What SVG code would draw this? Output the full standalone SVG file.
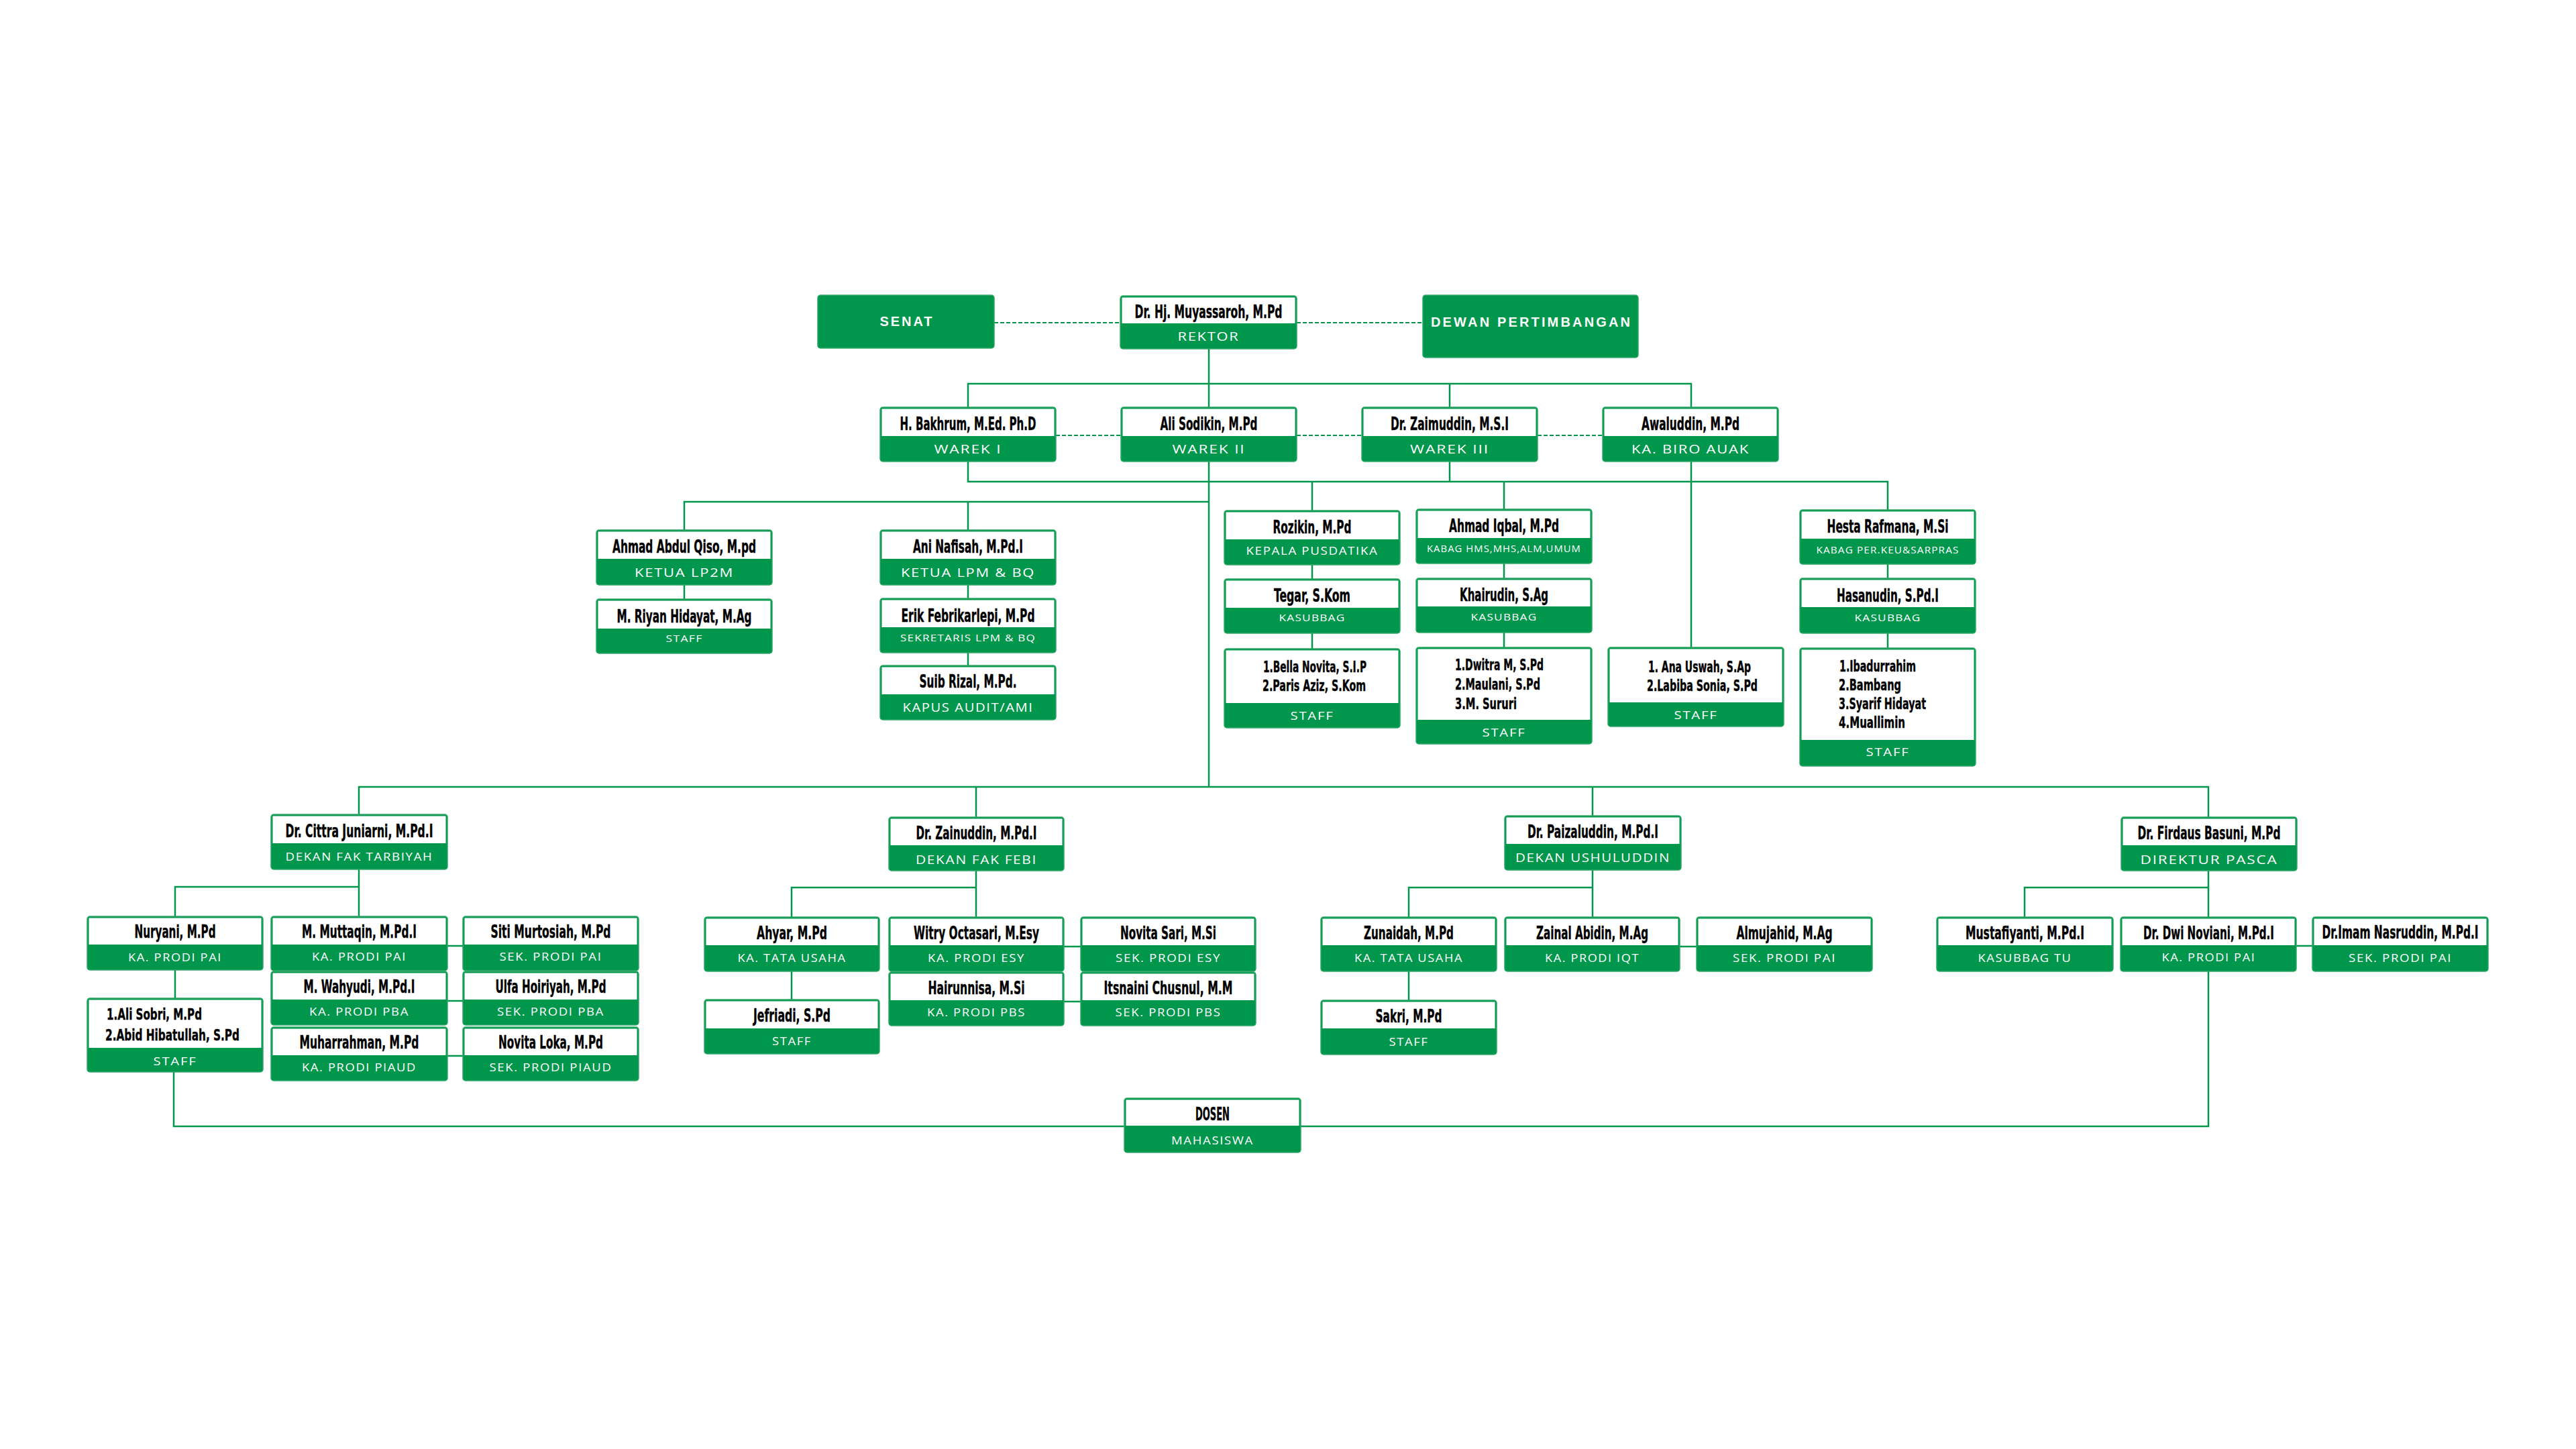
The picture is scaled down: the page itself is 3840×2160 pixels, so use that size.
<svg xmlns="http://www.w3.org/2000/svg" width="3840" height="2160" viewBox="0 0 3840 2160">
<style>
.bx{fill:#00964c;stroke:#2ea865;stroke-width:1.5}
.wh{fill:#ffffff}
.nm{font-family:"DejaVu Sans Condensed","Liberation Sans Narrow","Liberation Sans",sans-serif;font-weight:700;font-size:26px;fill:#000;stroke:#000;stroke-width:0.4;text-anchor:middle}
.ls{font-family:"DejaVu Sans Condensed","Liberation Sans Narrow","Liberation Sans",sans-serif;font-weight:700;font-size:23px;fill:#000;stroke:#000;stroke-width:0.4;text-anchor:start}
.tt{font-family:"Open Sans","Lato","Liberation Sans",sans-serif;font-size:17px;letter-spacing:1.5px;fill:#fff;text-anchor:middle}
.tl{font-family:"Open Sans","Lato","Liberation Sans",sans-serif;font-size:19px;letter-spacing:1.5px;fill:#fff;text-anchor:middle}
.ts{font-family:"Open Sans","Lato","Liberation Sans",sans-serif;font-size:14px;letter-spacing:1px;fill:#fff;text-anchor:middle}
.hb{font-family:"Liberation Sans","DejaVu Sans",sans-serif;font-weight:700;font-size:20px;fill:#fff;text-anchor:middle}
.ln{fill:none;stroke:#00964c;stroke-width:2.5}
.dl{fill:none;stroke:#00964c;stroke-width:2;stroke-dasharray:6 3}
</style>
<rect width="3840" height="2160" fill="#ffffff"/>
<g id="connectors">
<path class="ln" d="M1802 520V607 M1443 607V572H2521V607 M2161 572V607 M1802 688V1173 M1443 688V718H2814V760 M2161 688V718 M1956 718V761 M2242 718V759 M2521 688V965"/>
<path class="ln" d="M1020 790V748H1802 M1443 748V790 M1020 872V893 M1443 872V892 M1443 973V992 M1956 842V863 M1956 944V967 M2242 840V862 M2242 943V965 M2814 841V862 M2814 944V966"/>
<path class="ln" d="M535 1214V1173H3292V1218 M1455 1173V1218 M2374 1173V1216 M535 1296V1366 M261 1366V1322H535 M1455 1298V1367 M1180 1367V1323H1455 M2374 1297V1367 M2100 1367V1323H2374 M3292 1298V1367 M3018 1367V1323H3292"/>
<path class="ln" d="M261 1446V1488 M1180 1448V1490 M2100 1448V1491 M667 1410H690 M667 1492H690 M667 1574H690 M1586 1411H1611 M1586 1493H1611 M2504 1411H2529 M3423 1410H3447 M259 1598V1679H3292V1448"/>
<path class="dl" d="M1482 481H1670 M1933 481H2121 M1574 649H1671 M1933 649H2030 M2292 649H2389"/>
</g>
<g id="senat"><rect class="bx" x="1219" y="440" width="263" height="79" rx="4"/><text class="hb" x="1350.5" y="486" textLength="78" lengthAdjust="spacing">SENAT</text></g>
<g id="rektor"><rect class="bx" x="1670" y="441" width="263" height="79" rx="4"/><rect class="wh" x="1672.5" y="443.5" width="258" height="38.5"/><text class="nm" x="1801.5" y="474" textLength="220" lengthAdjust="spacingAndGlyphs">Dr. Hj. Muyassaroh, M.Pd</text><text class="tl" x="1801.5" y="508" textLength="92" lengthAdjust="spacingAndGlyphs">REKTOR</text></g>
<g id="dewan"><rect class="bx" x="2121" y="440" width="321" height="93" rx="4"/><text class="hb" x="2281.5" y="487" textLength="297" lengthAdjust="spacing">DEWAN PERTIMBANGAN</text></g>
<g id="warek1"><rect class="bx" x="1312" y="607" width="262" height="81" rx="4"/><rect class="wh" x="1314.5" y="609.5" width="257" height="40.5"/><text class="nm" x="1443" y="641" textLength="203" lengthAdjust="spacingAndGlyphs">H. Bakhrum, M.Ed. Ph.D</text><text class="tl" x="1443" y="676" textLength="101" lengthAdjust="spacingAndGlyphs">WAREK I</text></g>
<g id="warek2"><rect class="bx" x="1671" y="607" width="262" height="81" rx="4"/><rect class="wh" x="1673.5" y="609.5" width="257" height="40.5"/><text class="nm" x="1802" y="641" textLength="145" lengthAdjust="spacingAndGlyphs">Ali Sodikin, M.Pd</text><text class="tl" x="1802" y="676" textLength="109" lengthAdjust="spacingAndGlyphs">WAREK II</text></g>
<g id="warek3"><rect class="bx" x="2030" y="607" width="262" height="81" rx="4"/><rect class="wh" x="2032.5" y="609.5" width="257" height="40.5"/><text class="nm" x="2161" y="641" textLength="176" lengthAdjust="spacingAndGlyphs">Dr. Zaimuddin, M.S.I</text><text class="tl" x="2161" y="676" textLength="118" lengthAdjust="spacingAndGlyphs">WAREK III</text></g>
<g id="awaluddin"><rect class="bx" x="2389" y="607" width="262" height="81" rx="4"/><rect class="wh" x="2391.5" y="609.5" width="257" height="40.5"/><text class="nm" x="2520" y="641" textLength="146" lengthAdjust="spacingAndGlyphs">Awaluddin, M.Pd</text><text class="tl" x="2520" y="676" textLength="176" lengthAdjust="spacingAndGlyphs">KA. BIRO AUAK</text></g>
<g id="lp2m"><rect class="bx" x="889" y="790" width="262" height="82" rx="4"/><rect class="wh" x="891.5" y="792.5" width="257" height="40.5"/><text class="nm" x="1020" y="824" textLength="214" lengthAdjust="spacingAndGlyphs">Ahmad Abdul Qiso, M.pd</text><text class="tl" x="1020" y="860" textLength="148" lengthAdjust="spacingAndGlyphs">KETUA LP2M</text></g>
<g id="riyan"><rect class="bx" x="889" y="893" width="262" height="81" rx="4"/><rect class="wh" x="891.5" y="895.5" width="257" height="41.5"/><text class="nm" x="1020" y="928" textLength="201" lengthAdjust="spacingAndGlyphs">M. Riyan Hidayat, M.Ag</text><text class="ts" x="1020" y="957" textLength="55" lengthAdjust="spacingAndGlyphs">STAFF</text></g>
<g id="lpm"><rect class="bx" x="1312" y="790" width="262" height="82" rx="4"/><rect class="wh" x="1314.5" y="792.5" width="257" height="40.5"/><text class="nm" x="1443" y="824" textLength="164" lengthAdjust="spacingAndGlyphs">Ani Nafisah, M.Pd.I</text><text class="tl" x="1443" y="860" textLength="200" lengthAdjust="spacingAndGlyphs">KETUA LPM &amp; BQ</text></g>
<g id="erik"><rect class="bx" x="1312" y="892" width="262" height="81" rx="4"/><rect class="wh" x="1314.5" y="894.5" width="257" height="40.5"/><text class="nm" x="1443" y="927" textLength="199" lengthAdjust="spacingAndGlyphs">Erik Febrikarlepi, M.Pd</text><text class="ts" x="1443" y="956" textLength="202" lengthAdjust="spacingAndGlyphs">SEKRETARIS LPM &amp; BQ</text></g>
<g id="suib"><rect class="bx" x="1312" y="992" width="262" height="81" rx="4"/><rect class="wh" x="1314.5" y="994.5" width="257" height="40.5"/><text class="nm" x="1443" y="1025" textLength="145" lengthAdjust="spacingAndGlyphs">Suib Rizal, M.Pd.</text><text class="tl" x="1443" y="1061" textLength="195" lengthAdjust="spacingAndGlyphs">KAPUS AUDIT/AMI</text></g>
<g id="rozikin"><rect class="bx" x="1825" y="761" width="262" height="81" rx="4"/><rect class="wh" x="1827.5" y="763.5" width="257" height="40.5"/><text class="nm" x="1956" y="795" textLength="117" lengthAdjust="spacingAndGlyphs">Rozikin, M.Pd</text><text class="tt" x="1956" y="827" textLength="197" lengthAdjust="spacingAndGlyphs">KEPALA PUSDATIKA</text></g>
<g id="tegar"><rect class="bx" x="1825" y="863" width="262" height="81" rx="4"/><rect class="wh" x="1827.5" y="865.5" width="257" height="40.5"/><text class="nm" x="1956" y="897" textLength="114" lengthAdjust="spacingAndGlyphs">Tegar, S.Kom</text><text class="ts" x="1956" y="926" textLength="99" lengthAdjust="spacingAndGlyphs">KASUBBAG</text></g>
<g id="staff-pusdatika"><rect class="bx" x="1825" y="967" width="262" height="118" rx="4"/><rect class="wh" x="1827.5" y="969.5" width="257" height="78.5"/><text class="ls" x="1883" y="1002" textLength="154" lengthAdjust="spacingAndGlyphs">1.Bella Novita, S.I.P</text><text class="ls" x="1882" y="1030" textLength="154" lengthAdjust="spacingAndGlyphs">2.Paris Aziz, S.Kom</text><text class="tt" x="1956" y="1073" textLength="65" lengthAdjust="spacingAndGlyphs">STAFF</text></g>
<g id="iqbal"><rect class="bx" x="2111" y="759" width="262" height="81" rx="4"/><rect class="wh" x="2113.5" y="761.5" width="257" height="40.5"/><text class="nm" x="2242" y="793" textLength="164" lengthAdjust="spacingAndGlyphs">Ahmad Iqbal, M.Pd</text><text class="ts" x="2242" y="823" textLength="230" lengthAdjust="spacingAndGlyphs">KABAG HMS,MHS,ALM,UMUM</text></g>
<g id="khairudin"><rect class="bx" x="2111" y="862" width="262" height="81" rx="4"/><rect class="wh" x="2113.5" y="864.5" width="257" height="39.5"/><text class="nm" x="2242" y="896" textLength="132" lengthAdjust="spacingAndGlyphs">Khairudin, S.Ag</text><text class="ts" x="2242" y="925" textLength="99" lengthAdjust="spacingAndGlyphs">KASUBBAG</text></g>
<g id="staff-hms"><rect class="bx" x="2111" y="965" width="262" height="144" rx="4"/><rect class="wh" x="2113.5" y="967.5" width="257" height="105.5"/><text class="ls" x="2169" y="999" textLength="132" lengthAdjust="spacingAndGlyphs">1.Dwitra M, S.Pd</text><text class="ls" x="2169" y="1028" textLength="127" lengthAdjust="spacingAndGlyphs">2.Maulani, S.Pd</text><text class="ls" x="2169" y="1057" textLength="92" lengthAdjust="spacingAndGlyphs">3.M. Sururi</text><text class="tt" x="2242" y="1098" textLength="65" lengthAdjust="spacingAndGlyphs">STAFF</text></g>
<g id="staff-auak"><rect class="bx" x="2397" y="965" width="262" height="118" rx="4"/><rect class="wh" x="2399.5" y="967.5" width="257" height="79.5"/><text class="ls" x="2457" y="1002" textLength="153" lengthAdjust="spacingAndGlyphs">1. Ana Uswah, S.Ap</text><text class="ls" x="2455" y="1030" textLength="165" lengthAdjust="spacingAndGlyphs">2.Labiba Sonia, S.Pd</text><text class="tt" x="2528" y="1072" textLength="65" lengthAdjust="spacingAndGlyphs">STAFF</text></g>
<g id="hesta"><rect class="bx" x="2683" y="760" width="262" height="81" rx="4"/><rect class="wh" x="2685.5" y="762.5" width="257" height="40.5"/><text class="nm" x="2814" y="794" textLength="181" lengthAdjust="spacingAndGlyphs">Hesta Rafmana, M.Si</text><text class="ts" x="2814" y="825" textLength="213" lengthAdjust="spacingAndGlyphs">KABAG PER.KEU&amp;SARPRAS</text></g>
<g id="hasanudin"><rect class="bx" x="2683" y="862" width="262" height="82" rx="4"/><rect class="wh" x="2685.5" y="864.5" width="257" height="40.5"/><text class="nm" x="2814" y="897" textLength="152" lengthAdjust="spacingAndGlyphs">Hasanudin, S.Pd.I</text><text class="ts" x="2814" y="926" textLength="99" lengthAdjust="spacingAndGlyphs">KASUBBAG</text></g>
<g id="staff-keu"><rect class="bx" x="2683" y="966" width="262" height="176" rx="4"/><rect class="wh" x="2685.5" y="968.5" width="257" height="134.5"/><text class="ls" x="2742" y="1001" textLength="114" lengthAdjust="spacingAndGlyphs">1.Ibadurrahim</text><text class="ls" x="2741" y="1029" textLength="93" lengthAdjust="spacingAndGlyphs">2.Bambang</text><text class="ls" x="2741" y="1057" textLength="130" lengthAdjust="spacingAndGlyphs">3.Syarif Hidayat</text><text class="ls" x="2741" y="1085" textLength="99" lengthAdjust="spacingAndGlyphs">4.Muallimin</text><text class="tt" x="2814" y="1127" textLength="65" lengthAdjust="spacingAndGlyphs">STAFF</text></g>
<g id="dekan-tarbiyah"><rect class="bx" x="404" y="1214" width="263" height="82" rx="4"/><rect class="wh" x="406.5" y="1216.5" width="258" height="40.5"/><text class="nm" x="535.5" y="1248" textLength="220" lengthAdjust="spacingAndGlyphs">Dr. Cittra Juniarni, M.Pd.I</text><text class="tt" x="535.5" y="1283" textLength="220" lengthAdjust="spacingAndGlyphs">DEKAN FAK TARBIYAH</text></g>
<g id="dekan-febi"><rect class="bx" x="1325" y="1218" width="261" height="80" rx="4"/><rect class="wh" x="1327.5" y="1220.5" width="256" height="39.5"/><text class="nm" x="1455.5" y="1251" textLength="180" lengthAdjust="spacingAndGlyphs">Dr. Zainuddin, M.Pd.I</text><text class="tl" x="1455.5" y="1288" textLength="181" lengthAdjust="spacingAndGlyphs">DEKAN FAK FEBI</text></g>
<g id="dekan-ushuluddin"><rect class="bx" x="2243" y="1216" width="263" height="81" rx="4"/><rect class="wh" x="2245.5" y="1218.5" width="258" height="39.5"/><text class="nm" x="2374.5" y="1249" textLength="195" lengthAdjust="spacingAndGlyphs">Dr. Paizaluddin, M.Pd.I</text><text class="tl" x="2374.5" y="1285" textLength="231" lengthAdjust="spacingAndGlyphs">DEKAN USHULUDDIN</text></g>
<g id="direktur-pasca"><rect class="bx" x="3162" y="1218" width="262" height="80" rx="4"/><rect class="wh" x="3164.5" y="1220.5" width="257" height="39.5"/><text class="nm" x="3293" y="1251" textLength="213" lengthAdjust="spacingAndGlyphs">Dr. Firdaus Basuni, M.Pd</text><text class="tl" x="3293" y="1288" textLength="205" lengthAdjust="spacingAndGlyphs">DIREKTUR PASCA</text></g>
<g id="nuryani"><rect class="bx" x="130" y="1366" width="262" height="80" rx="4"/><rect class="wh" x="132.5" y="1368.5" width="257" height="39.5"/><text class="nm" x="261" y="1398" textLength="121" lengthAdjust="spacingAndGlyphs">Nuryani, M.Pd</text><text class="tt" x="261" y="1433" textLength="140" lengthAdjust="spacingAndGlyphs">KA. PRODI PAI</text></g>
<g id="staff-tarbiyah"><rect class="bx" x="130" y="1488" width="262" height="110" rx="4"/><rect class="wh" x="132.5" y="1490.5" width="257" height="71.5"/><text class="ls" x="159" y="1520" textLength="142" lengthAdjust="spacingAndGlyphs">1.Ali Sobri, M.Pd</text><text class="ls" x="157" y="1551" textLength="200" lengthAdjust="spacingAndGlyphs">2.Abid Hibatullah, S.Pd</text><text class="tt" x="261" y="1588" textLength="65" lengthAdjust="spacingAndGlyphs">STAFF</text></g>
<g id="muttaqin"><rect class="bx" x="404" y="1366" width="263" height="81" rx="4"/><rect class="wh" x="406.5" y="1368.5" width="258" height="39.5"/><text class="nm" x="535.5" y="1398" textLength="171" lengthAdjust="spacingAndGlyphs">M. Muttaqin, M.Pd.I</text><text class="tt" x="535.5" y="1432" textLength="141" lengthAdjust="spacingAndGlyphs">KA. PRODI PAI</text></g>
<g id="wahyudi"><rect class="bx" x="404" y="1448" width="263" height="80" rx="4"/><rect class="wh" x="406.5" y="1450.5" width="258" height="39.5"/><text class="nm" x="535.5" y="1480" textLength="166" lengthAdjust="spacingAndGlyphs">M. Wahyudi, M.Pd.I</text><text class="tt" x="535.5" y="1514" textLength="149" lengthAdjust="spacingAndGlyphs">KA. PRODI PBA</text></g>
<g id="muharrahman"><rect class="bx" x="404" y="1531" width="263" height="80" rx="4"/><rect class="wh" x="406.5" y="1533.5" width="258" height="39.5"/><text class="nm" x="535.5" y="1563" textLength="178" lengthAdjust="spacingAndGlyphs">Muharrahman, M.Pd</text><text class="tt" x="535.5" y="1597" textLength="171" lengthAdjust="spacingAndGlyphs">KA. PRODI PIAUD</text></g>
<g id="siti"><rect class="bx" x="690" y="1366" width="262" height="81" rx="4"/><rect class="wh" x="692.5" y="1368.5" width="257" height="39.5"/><text class="nm" x="821" y="1398" textLength="179" lengthAdjust="spacingAndGlyphs">Siti Murtosiah, M.Pd</text><text class="tt" x="821" y="1432" textLength="153" lengthAdjust="spacingAndGlyphs">SEK. PRODI PAI</text></g>
<g id="ulfa"><rect class="bx" x="690" y="1448" width="262" height="80" rx="4"/><rect class="wh" x="692.5" y="1450.5" width="257" height="39.5"/><text class="nm" x="821" y="1480" textLength="165" lengthAdjust="spacingAndGlyphs">Ulfa Hoiriyah, M.Pd</text><text class="tt" x="821" y="1514" textLength="160" lengthAdjust="spacingAndGlyphs">SEK. PRODI PBA</text></g>
<g id="novita-loka"><rect class="bx" x="690" y="1531" width="262" height="80" rx="4"/><rect class="wh" x="692.5" y="1533.5" width="257" height="39.5"/><text class="nm" x="821" y="1563" textLength="156" lengthAdjust="spacingAndGlyphs">Novita Loka, M.Pd</text><text class="tt" x="821" y="1597" textLength="183" lengthAdjust="spacingAndGlyphs">SEK. PRODI PIAUD</text></g>
<g id="ahyar"><rect class="bx" x="1050" y="1367" width="261" height="81" rx="4"/><rect class="wh" x="1052.5" y="1369.5" width="256" height="39.5"/><text class="nm" x="1180.5" y="1400" textLength="105" lengthAdjust="spacingAndGlyphs">Ahyar, M.Pd</text><text class="tt" x="1180.5" y="1434" textLength="162" lengthAdjust="spacingAndGlyphs">KA. TATA USAHA</text></g>
<g id="jefriadi"><rect class="bx" x="1050" y="1490" width="261" height="81" rx="4"/><rect class="wh" x="1052.5" y="1492.5" width="256" height="40.5"/><text class="nm" x="1180.5" y="1523" textLength="115" lengthAdjust="spacingAndGlyphs">Jefriadi, S.Pd</text><text class="tt" x="1180.5" y="1558" textLength="59" lengthAdjust="spacingAndGlyphs">STAFF</text></g>
<g id="witry"><rect class="bx" x="1325" y="1367" width="261" height="81" rx="4"/><rect class="wh" x="1327.5" y="1369.5" width="256" height="39.5"/><text class="nm" x="1455.5" y="1400" textLength="187" lengthAdjust="spacingAndGlyphs">Witry Octasari, M.Esy</text><text class="tt" x="1455.5" y="1434" textLength="145" lengthAdjust="spacingAndGlyphs">KA. PRODI ESY</text></g>
<g id="hairunnisa"><rect class="bx" x="1325" y="1449" width="261" height="80" rx="4"/><rect class="wh" x="1327.5" y="1451.5" width="256" height="39.5"/><text class="nm" x="1455.5" y="1482" textLength="144" lengthAdjust="spacingAndGlyphs">Hairunnisa, M.Si</text><text class="tt" x="1455.5" y="1515" textLength="147" lengthAdjust="spacingAndGlyphs">KA. PRODI PBS</text></g>
<g id="novita-sari"><rect class="bx" x="1611" y="1367" width="261" height="81" rx="4"/><rect class="wh" x="1613.5" y="1369.5" width="256" height="39.5"/><text class="nm" x="1741.5" y="1400" textLength="143" lengthAdjust="spacingAndGlyphs">Novita Sari, M.Si</text><text class="tt" x="1741.5" y="1434" textLength="157" lengthAdjust="spacingAndGlyphs">SEK. PRODI ESY</text></g>
<g id="itsnaini"><rect class="bx" x="1611" y="1449" width="261" height="80" rx="4"/><rect class="wh" x="1613.5" y="1451.5" width="256" height="39.5"/><text class="nm" x="1741.5" y="1482" textLength="192" lengthAdjust="spacingAndGlyphs">Itsnaini Chusnul, M.M</text><text class="tt" x="1741.5" y="1515" textLength="158" lengthAdjust="spacingAndGlyphs">SEK. PRODI PBS</text></g>
<g id="zunaidah"><rect class="bx" x="1969" y="1367" width="262" height="81" rx="4"/><rect class="wh" x="1971.5" y="1369.5" width="257" height="39.5"/><text class="nm" x="2100" y="1400" textLength="134" lengthAdjust="spacingAndGlyphs">Zunaidah, M.Pd</text><text class="tt" x="2100" y="1434" textLength="162" lengthAdjust="spacingAndGlyphs">KA. TATA USAHA</text></g>
<g id="sakri"><rect class="bx" x="1969" y="1491" width="262" height="81" rx="4"/><rect class="wh" x="1971.5" y="1493.5" width="257" height="39.5"/><text class="nm" x="2100" y="1524" textLength="99" lengthAdjust="spacingAndGlyphs">Sakri, M.Pd</text><text class="tt" x="2100" y="1559" textLength="59" lengthAdjust="spacingAndGlyphs">STAFF</text></g>
<g id="zainal"><rect class="bx" x="2243" y="1367" width="261" height="81" rx="4"/><rect class="wh" x="2245.5" y="1369.5" width="256" height="39.5"/><text class="nm" x="2373.5" y="1400" textLength="167" lengthAdjust="spacingAndGlyphs">Zainal Abidin, M.Ag</text><text class="tt" x="2373.5" y="1434" textLength="141" lengthAdjust="spacingAndGlyphs">KA. PRODI IQT</text></g>
<g id="almujahid"><rect class="bx" x="2529" y="1367" width="262" height="81" rx="4"/><rect class="wh" x="2531.5" y="1369.5" width="257" height="39.5"/><text class="nm" x="2660" y="1400" textLength="143" lengthAdjust="spacingAndGlyphs">Almujahid, M.Ag</text><text class="tt" x="2660" y="1434" textLength="154" lengthAdjust="spacingAndGlyphs">SEK. PRODI PAI</text></g>
<g id="mustafiyanti"><rect class="bx" x="2887" y="1367" width="263" height="81" rx="4"/><rect class="wh" x="2889.5" y="1369.5" width="258" height="39.5"/><text class="nm" x="3018.5" y="1400" textLength="177" lengthAdjust="spacingAndGlyphs">Mustafiyanti, M.Pd.I</text><text class="tt" x="3018.5" y="1434" textLength="140" lengthAdjust="spacingAndGlyphs">KASUBBAG TU</text></g>
<g id="dwi-noviani"><rect class="bx" x="3161" y="1367" width="262" height="81" rx="4"/><rect class="wh" x="3163.5" y="1369.5" width="257" height="39.5"/><text class="nm" x="3292.5" y="1400" textLength="195" lengthAdjust="spacingAndGlyphs">Dr. Dwi Noviani, M.Pd.I</text><text class="tt" x="3292.5" y="1433" textLength="140" lengthAdjust="spacingAndGlyphs">KA. PRODI PAI</text></g>
<g id="imam"><rect class="bx" x="3447" y="1367" width="262" height="81" rx="4"/><rect class="wh" x="3449.5" y="1369.5" width="257" height="39.5"/><text class="nm" transform="translate(3578 1399) scale(0.7 1)" x="0" y="0" textLength="333" lengthAdjust="spacingAndGlyphs">Dr.Imam Nasruddin, M.Pd.I</text><text class="tt" x="3578" y="1434" textLength="154" lengthAdjust="spacingAndGlyphs">SEK. PRODI PAI</text></g>
<g id="dosen"><rect class="bx" x="1676" y="1637" width="263" height="81" rx="4"/><rect class="wh" x="1678.5" y="1639.5" width="258" height="38.5"/><text class="nm" x="1807.5" y="1670" textLength="51" lengthAdjust="spacingAndGlyphs">DOSEN</text><text class="tt" x="1807.5" y="1706" textLength="123" lengthAdjust="spacingAndGlyphs">MAHASISWA</text></g>
</svg>
